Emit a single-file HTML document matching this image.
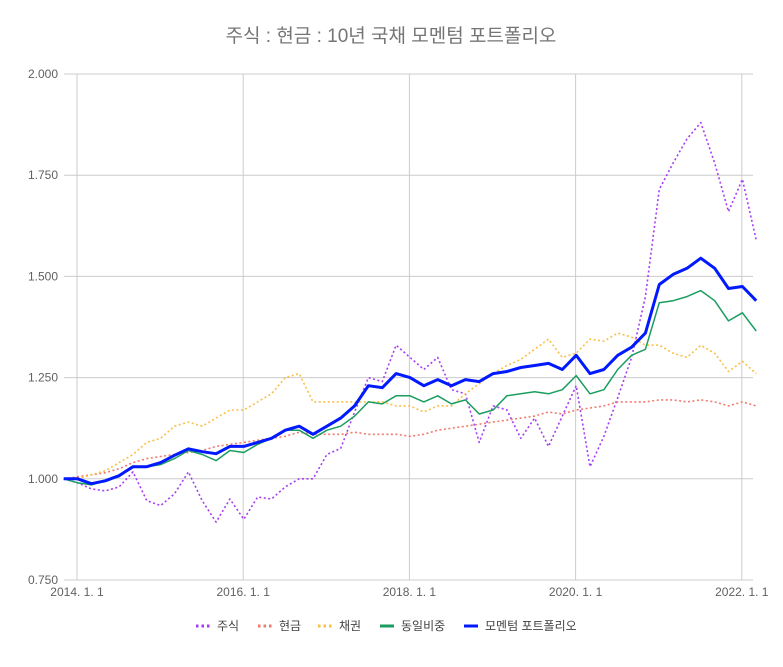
<!DOCTYPE html>
<html><head><meta charset="utf-8">
<style>
body{margin:0;background:#fff;}
svg text{font-family:"Liberation Sans","Noto Sans CJK KR",sans-serif;}
</style></head>
<body>
<svg id="chart" width="783" height="662" viewBox="0 0 783 662" xmlns="http://www.w3.org/2000/svg">
<rect width="783" height="662" fill="#fff"/>
<text x="391" y="42" text-anchor="middle" font-size="19" fill="#757575">주식 : 현금 : 10년 국채 모멘텀 포트폴리오</text>
<g id="grid"></g>
<g id="series"></g>
<g id="legend"></g>
</svg>
<script>
const yTicks = [0.75, 1.0, 1.25, 1.5, 1.75, 2.0];
const yTickLabels = ["0.750","1.000","1.250","1.500","1.750","2.000"];
const xTickYears = [2014, 2016, 2018, 2020, 2022];
const xTickLabels = ["2014. 1. 1","2016. 1. 1","2018. 1. 1","2020. 1. 1","2022. 1. 1"];
const startYear = 2013.84;
const stepYears = 1/6;
const stocks = [1.00,0.99,0.975,0.97,0.98,1.017,0.946,0.934,0.963,1.017,0.946,0.893,0.95,0.90,0.955,0.95,0.98,1.00,1.00,1.06,1.075,1.165,1.25,1.24,1.33,1.30,1.27,1.30,1.22,1.21,1.09,1.18,1.17,1.10,1.15,1.08,1.155,1.23,1.03,1.105,1.20,1.30,1.45,1.715,1.78,1.84,1.88,1.78,1.66,1.74,1.59];
const cash = [1.00,1.005,1.01,1.015,1.025,1.04,1.05,1.055,1.06,1.065,1.07,1.08,1.085,1.09,1.095,1.10,1.105,1.115,1.11,1.11,1.11,1.115,1.11,1.11,1.11,1.105,1.11,1.12,1.125,1.13,1.135,1.14,1.145,1.15,1.155,1.165,1.16,1.17,1.175,1.18,1.19,1.19,1.19,1.195,1.195,1.19,1.195,1.19,1.18,1.19,1.18];
const bonds = [1.00,1.00,1.01,1.02,1.04,1.06,1.09,1.10,1.13,1.14,1.13,1.15,1.17,1.17,1.19,1.21,1.25,1.26,1.19,1.19,1.19,1.19,1.19,1.19,1.18,1.18,1.165,1.18,1.18,1.21,1.235,1.26,1.28,1.295,1.32,1.345,1.30,1.31,1.345,1.34,1.36,1.35,1.33,1.33,1.31,1.30,1.33,1.31,1.265,1.29,1.26];
const equal = [1.00,0.99,0.985,0.995,1.005,1.03,1.03,1.035,1.05,1.07,1.06,1.045,1.07,1.065,1.085,1.10,1.12,1.12,1.10,1.12,1.13,1.155,1.19,1.185,1.205,1.205,1.19,1.205,1.185,1.195,1.16,1.17,1.205,1.21,1.215,1.21,1.22,1.255,1.21,1.22,1.27,1.305,1.32,1.435,1.44,1.45,1.465,1.44,1.39,1.41,1.365];
const momentum = [1.00,1.00,0.988,0.995,1.008,1.03,1.03,1.04,1.058,1.074,1.067,1.062,1.08,1.08,1.09,1.10,1.12,1.13,1.11,1.13,1.15,1.18,1.23,1.225,1.26,1.25,1.23,1.245,1.23,1.245,1.24,1.26,1.265,1.275,1.28,1.285,1.27,1.305,1.26,1.27,1.305,1.325,1.36,1.48,1.505,1.52,1.545,1.52,1.47,1.475,1.44];

const L=64, R=753, T=74, B=580;
const yMin=0.75, yMax=2.0;
function yScale(v){return B-(v-yMin)/(yMax-yMin)*(B-T);}
function xScale(yr){return 77+(yr-2014)*83.1;}
function xIdx(i){return xScale(startYear+i*stepYears);}
const NS="http://www.w3.org/2000/svg";
function mk(tag,attrs,parent){const e=document.createElementNS(NS,tag);for(const k in attrs)e.setAttribute(k,attrs[k]);parent.appendChild(e);return e;}
const grid=document.getElementById('grid');
yTicks.forEach((v,i)=>{
  const y=yScale(v);
  const ln=mk('line',{x1:L,x2:R,y1:y,y2:y,stroke:'#cccccc','stroke-width':1},grid);
  
  
  const t=mk('text',{x:58,y:y+4,'text-anchor':'end','font-size':12,fill:'#616161'},grid);
  t.textContent=yTickLabels[i];
  
  
});
xTickYears.forEach((yr,i)=>{
  const x=xScale(yr);
  const ln=mk('line',{x1:x,x2:x,y1:T,y2:B,stroke:'#cccccc','stroke-width':1},grid);
  
  
  const t=mk('text',{x:x,y:596,'text-anchor':'middle','font-size':12,fill:'#616161'},grid);
  t.textContent=xTickLabels[i];
  
  
});
const ser=document.getElementById('series');
const defs=[
 {name:'stocks-line',data:stocks,color:'#a63cf5',w:1.6,dash:'2,2.5'},
 {name:'cash-line',data:cash,color:'#f07a6e',w:1.6,dash:'2,2.5'},
 {name:'bonds-line',data:bonds,color:'#fbbf45',w:1.6,dash:'2,2.5'},
 {name:'equal-weight-line',data:equal,color:'#1a9d5f',w:1.5,dash:''},
 {name:'momentum-portfolio-line',data:momentum,color:'#0019ff',w:3,dash:''}
];
defs.forEach(d=>{
  const pts=d.data.map((v,i)=>xIdx(i).toFixed(1)+','+yScale(v).toFixed(1)).join(' ');
  const p=mk('polyline',{points:pts,fill:'none',stroke:d.color,'stroke-width':d.w,'stroke-linejoin':'round'},ser);
  if(d.dash)p.setAttribute('stroke-dasharray',d.dash);
  
  
});
const legendItems=[
 {label:'주식',color:'#a63cf5',dash:true,x:196},
 {label:'현금',color:'#f07a6e',dash:true,x:258},
 {label:'채권',color:'#fbbf45',dash:true,x:318},
 {label:'동일비중',color:'#1a9d5f',dash:false,x:380},
 {label:'모멘텀 포트폴리오',color:'#0019ff',dash:false,x:464}
];
const lg=document.getElementById('legend');
legendItems.forEach(it=>{
  const g=mk('g',{},lg);
  
  
  const sw=mk('line',{x1:it.x,x2:it.x+14,y1:626,y2:626,stroke:it.color,'stroke-width':3},g);
  if(it.dash)sw.setAttribute('stroke-dasharray','2.5,3');
  
  
  const t=mk('text',{x:it.x+21,y:630,'font-size':12,fill:'#424242'},g);
  t.textContent=it.label;
  
  
});
</script>
</body></html>
